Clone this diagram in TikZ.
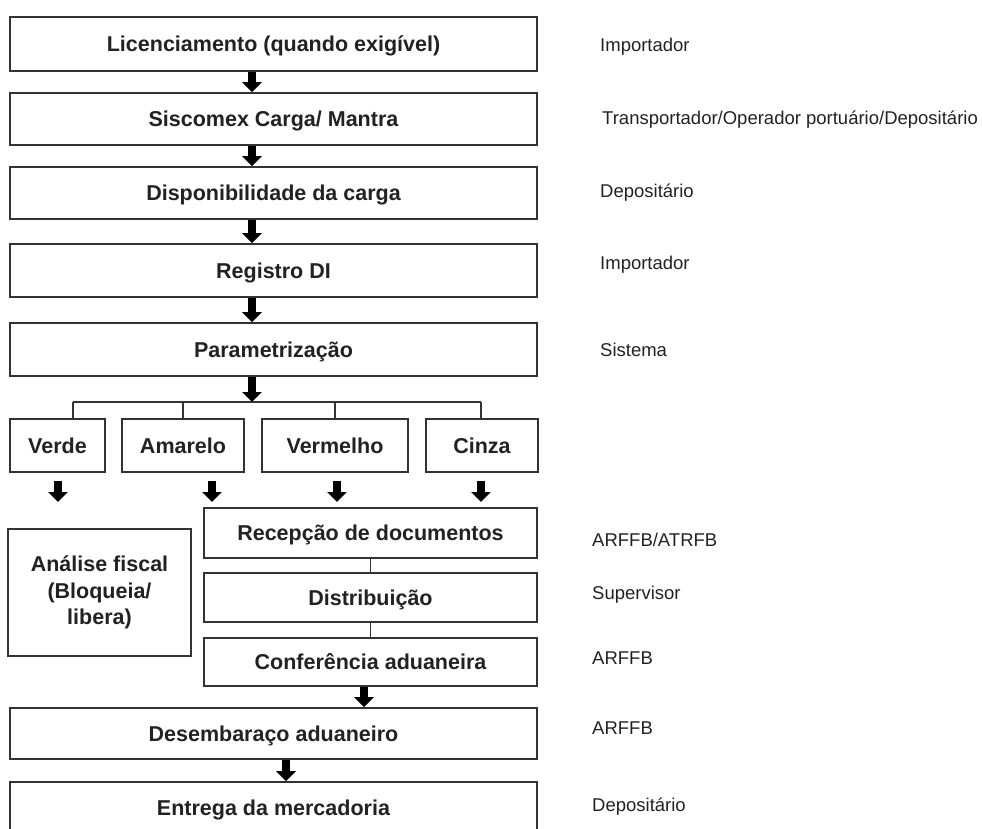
\documentclass[tikz,border=0pt]{standalone}
\usepackage{fontspec}
\setmainfont{Liberation Sans}
\usetikzlibrary{arrows.meta,calc}
\definecolor{edge}{HTML}{333333}
\definecolor{ink}{HTML}{222222}
\tikzset{
  box/.style={draw=edge, line width=1.6pt, fill=white, inner sep=0pt,
    text=ink, font=\fontsize{21.5}{26.5}\selectfont\bfseries},
  stage/.style={box, text height=15.5pt, text depth=0pt},
  role/.style={anchor=base west, inner sep=0pt, text=ink,
    font=\fontsize{18.5}{22}\selectfont},
  flow/.style={line width=7.5pt, -{Triangle[width=19pt,length=10pt]}, black},
  link/.style={draw=edge, line width=1.4pt},
}
\begin{document}
\begin{tikzpicture}[x=1pt,y=-1pt]
\useasboundingbox (0,0) rectangle (982,828);
\clip (0,0) rectangle (982,828);

% main column
\node[stage, minimum width=527pt, minimum height=54pt] (lic) at (273.5,44) {Licenciamento (quando exigível)};
\node[stage, minimum width=527pt, minimum height=52pt] (sis) at (273.5,119) {Siscomex Carga/ Mantra};
\node[stage, minimum width=527pt, minimum height=52pt] (disp) at (273.5,193) {Disponibilidade da carga};
\node[stage, minimum width=527pt, minimum height=53pt] (reg) at (273.5,270.5) {Registro DI};
\node[stage, minimum width=527pt, minimum height=53pt] (par) at (273.5,349.5) {Parametrização};

% channels
\node[stage, minimum width=95pt, minimum height=53pt] (verde) at (57.5,445.5) {Verde};
\node[stage, minimum width=122pt, minimum height=53pt] (amar) at (183,445.5) {Amarelo};
\node[stage, minimum width=146pt, minimum height=53pt] (verm) at (335,445.5) {Vermelho};
\node[stage, minimum width=112pt, minimum height=53pt] (cinza) at (482,445.5) {Cinza};

% inspection steps
\node[box, minimum width=183pt, minimum height=127pt, align=center] (anal) at (99.5,592.5) {Análise fiscal\\(Bloqueia/\\libera)};
\node[stage, minimum width=333pt, minimum height=50pt] (rec) at (370.5,533) {Recepção de documentos};
\node[stage, minimum width=333pt, minimum height=49pt] (dist) at (370.5,597.5) {Distribuição};
\node[stage, minimum width=333pt, minimum height=48pt] (conf) at (370.5,662) {Conferência aduaneira};

% final steps
\node[stage, minimum width=527pt, minimum height=51pt] (des) at (273.5,733.5) {Desembaraço aduaneiro};
\node[stage, minimum width=527pt, minimum height=52pt] (ent) at (273.5,808) {Entrega da mercadoria};

% arrow columns
\coordinate (ax) at (252,0);
\coordinate (cx) at (364,0);
\coordinate (dx) at (286,0);

\draw[flow] (lic.south -| ax) -- (sis.north -| ax);
\draw[flow] (sis.south -| ax) -- (disp.north -| ax);
\draw[flow] (disp.south -| ax) -- (reg.north -| ax);
\draw[flow] (reg.south -| ax) -- (par.north -| ax);

% distribution bus
\coordinate (b1) at (73,402);
\coordinate (b2) at (183,402);
\coordinate (b3) at (335,402);
\coordinate (b4) at (481,402);
\draw[link] (b1) -- (b4);
\draw[link] (b1) -- (verde.north -| b1);
\draw[link] (b2) -- (amar.north -| b2);
\draw[link] (b3) -- (verm.north -| b3);
\draw[link] (b4) -- (cinza.north -| b4);
\draw[flow] (par.south -| ax) -- (ax |- b1);

% arrows below the channels
\coordinate (v1) at (58,481);  \coordinate (v2) at (58,502);
\coordinate (a1) at (212,481); \coordinate (a2) at (212,502);
\coordinate (m1) at (337,481); \coordinate (m2) at (337,502);
\coordinate (c1) at (481,481); \coordinate (c2) at (481,502);
\draw[flow] (v1) -- (v2);
\draw[flow] (a1) -- (a2);
\draw[flow] (m1) -- (m2);
\draw[flow] (c1) -- (c2);

\draw[link] (rec.south) -- (dist.north);
\draw[link] (dist.south) -- (conf.north);
\draw[flow] (conf.south -| cx) -- (des.north -| cx);
\draw[flow] (des.south -| dx) -- (ent.north -| dx);

% responsible parties
\node[role] (r1) at (600,51.5) {Importador};
\node[role] (r2) at (602,124.5) {Transportador/Operador portuário/Depositário};
\node[role] (r3) at (600,197.5) {Depositário};
\node[role] (r4) at (600,269.5) {Importador};
\node[role] (r5) at (600,356.5) {Sistema};
\node[role] (r6) at (592,546.5) {ARFFB/ATRFB};
\node[role] (r7) at (592,599.5) {Supervisor};
\node[role] (r8) at (592,664.5) {ARFFB};
\node[role] (r9) at (592,734.5) {ARFFB};
\node[role] (r10) at (592,811.5) {Depositário};
\end{tikzpicture}
\end{document}
